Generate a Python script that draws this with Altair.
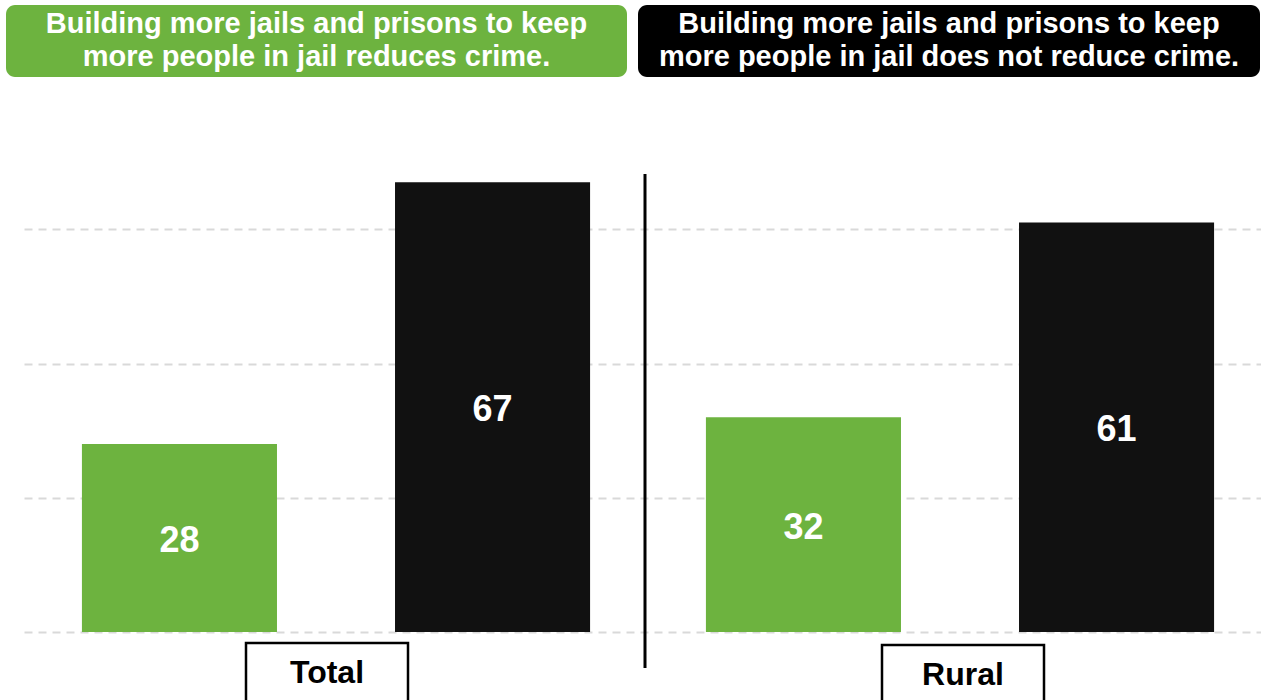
import altair as alt
import pandas as pd

groups = ["Total", "Rural"]
series = [
    "Building more jails and prisons to keep\nmore people in jail reduces crime.",
    "Building more jails and prisons to keep\nmore people in jail does not reduce crime.",
]
series_keys = ["reduces", "does not reduce"]
colors = ["#6db33f", "#111111"]
header_colors = ["#6db33f", "#000000"]
total_values = [28, 67]
rural_values = [32, 61]
grid_values = [0, 20, 40, 60]

rows = []
for g, vals in zip(groups, [total_values, rural_values]):
    for k, v in zip(series_keys, vals):
        rows.append({"group": g, "series": k, "value": v})
df = pd.DataFrame(rows)

FONT = "Liberation Sans"

x_enc = alt.X("group:N", sort=groups, axis=None,
              scale=alt.Scale(domain=groups, range=[0, 1248], paddingInner=0, paddingOuter=0))
xo_enc = alt.XOffset("series:N", sort=series_keys,
                     scale=alt.Scale(domain=series_keys, paddingInner=0.377, paddingOuter=0.185))
y_scale = alt.Scale(domain=[0, 80], nice=False)

bars = alt.Chart(df).mark_bar().encode(
    x=x_enc,
    xOffset=xo_enc,
    y=alt.Y("value:Q", scale=y_scale,
            axis=alt.Axis(values=grid_values, grid=True, gridDash=[8, 6], gridColor="#d9d9d9",
                          gridWidth=2, domain=False, ticks=False, labels=False, title=None)),
    color=alt.Color("series:N", scale=alt.Scale(domain=series_keys, range=colors), legend=None),
)

labels = alt.Chart(df).transform_calculate(mid="datum.value / 2").mark_text(
    font=FONT, fontSize=36, fontWeight="bold", color="white", baseline="middle", dy=3
).encode(
    x=x_enc,
    xOffset=xo_enc,
    y=alt.Y("mid:Q", scale=y_scale),
    text=alt.Text("value:Q"),
)

box_layers = []
box_shift = {"Total": -9, "Rural": 3}
box_top = {"Total": 548, "Rural": 550}
for g in groups:
    gd = pd.DataFrame({"group": [g]})
    box_layers.append(
        alt.Chart(gd).mark_bar(width=162, fill="white", stroke="black", strokeWidth=2.5,
                               xOffset=box_shift[g]).encode(
            x=x_enc, y=alt.value(box_top[g]), y2=alt.value(630)
        )
    )
    box_layers.append(
        alt.Chart(gd).mark_text(font=FONT, fontSize=32, fontWeight="bold", color="black",
                                baseline="middle", dx=box_shift[g]).encode(
            x=x_enc, y=alt.value(box_top[g] + 30), text="group:N"
        )
    )

sep = alt.Chart(pd.DataFrame({"group": groups[:1]})).mark_rule(color="black", strokeWidth=3).encode(
    x=alt.value(621), y=alt.value(79), y2=alt.value(573)
)

hdr_layers = []
hdr_pos = [(-18, 603), (614, 1236)]
for s, c, (x1, x2) in zip(series, header_colors, hdr_pos):
    hd = pd.DataFrame({"t": [s]})
    hdr_layers.append(
        alt.Chart(hd).mark_rect(color=c, cornerRadius=9).encode(
            x=alt.value(x1), x2=alt.value(x2), y=alt.value(-90), y2=alt.value(-18)
        )
    )
    hdr_layers.append(
        alt.Chart(hd).mark_text(font=FONT, fontSize=29, fontWeight="bold", color="white",
                                baseline="middle", align="center", lineBreak="\n",
                                lineHeight=33).encode(
            x=alt.value((x1 + x2) / 2), y=alt.value(-71), text="t:N"
        )
    )

chart = alt.layer(bars, labels, *box_layers, sep, *hdr_layers).properties(
    width=1237, height=537,
    autosize=alt.AutoSizeParams(type="none"),
    padding={"left": 24, "top": 95, "right": 0, "bottom": 68},
).configure(background="white").configure_view(stroke=None)

chart.save("out.html", embed_options={"renderer": "svg", "actions": False})
